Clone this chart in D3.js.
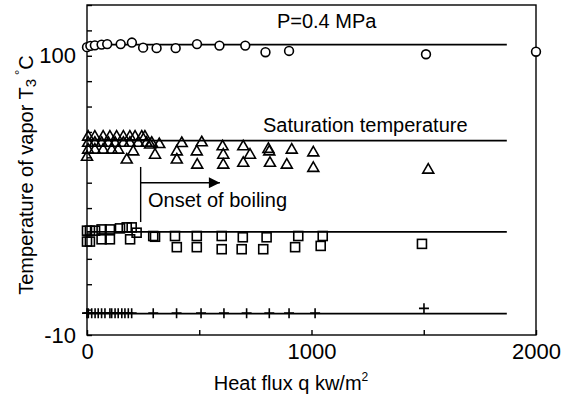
<!DOCTYPE html>
<html>
<head>
<meta charset="utf-8">
<script src="https://cdn.jsdelivr.net/npm/d3@7"></script>
<style>
  html, body { margin: 0; padding: 0; background: #fff; }
  svg { display: block; }
  text { font-family: "Liberation Sans", Arial, Helvetica, sans-serif; fill: #000; }
</style>
</head>
<body>
<svg id="chart" width="573" height="400"></svg>
<script>
// Vapor temperature vs heat flux, P = 0.4 MPa
const xDomain = [0, 2000];
const yDomain = [-10, 120];
const xTickValues = [0, 500, 1000, 1500, 2000];
const xTickLabels = ["0", "", "1000", "", "2000"];
const yTickValues = d3.range(-10, 121, 10);
const yTickLabels = { "-10": "-10", "100": "100" };

// Series: heat flux q (kW/m2) and temperature
const circleQ = [0, 15, 35, 65, 90, 150, 200, 250, 310, 395, 490, 590, 705, 795, 900, 1510, 2000];
const circleT = [103.4, 103.9, 104.1, 104.4, 104.6, 104.6, 105.2, 103.2, 103.0, 103.0, 104.6, 104.0, 104.0, 101.4, 101.9, 100.6, 101.6];

const triangleQ = [5, 35, 72, 102, 132, 162, 191, 214, 244, 258,
                   5, 35, 65, 95, 125, 162, 191, 228, 265, 288,
                   5, 35, 72, 110, 139, 206,
                   0,
                   177, 281, 303, 322, 400, 400, 422, 489, 491, 511,
                   604, 607, 607, 696, 696, 726, 808, 812, 815, 890, 912,
                   1008, 1008, 1520];
const triangleT = [68.0, 68.0, 68.0, 68.0, 68.0, 68.0, 68.0, 68.0, 68.0, 68.0,
                   65.6, 65.6, 65.6, 65.6, 65.6, 65.6, 65.6, 65.6, 65.6, 65.6,
                   62.9, 62.9, 62.9, 62.9, 62.9, 62.2,
                   60.1,
                   59.0, 64.9, 60.9, 65.1, 62.2, 59.0, 65.5, 62.2, 57.0, 65.8,
                   64.2, 60.9, 57.0, 64.2, 57.7, 60.9, 63.2, 62.2, 57.7, 57.0, 62.9,
                   61.8, 55.7, 55.0];

const squareQ = [0, 0, 13, 13, 36, 65, 65, 102, 102, 147, 177, 192, 199, 221,
                 295, 303, 392, 400, 489, 489, 600, 600, 694, 689, 800, 785,
                 941, 927, 1050, 1041, 1492];
const squareT = [31.1, 26.8, 31.1, 26.8, 31.1, 31.6, 27.7, 31.6, 27.7, 32.0, 32.4, 27.7, 32.4, 30.3,
                 29.0, 28.7, 29.0, 24.6, 29.0, 24.6, 29.0, 23.8, 28.5, 23.8, 28.5, 23.8,
                 29.0, 24.6, 29.0, 25.1, 25.9];

const plusQ = [0, 6, 21, 36, 50, 65, 80, 102, 110, 125, 139, 155, 169, 184, 199,
               295, 399, 508, 610, 711, 812, 900, 1016, 1501];
const plusT = [-1.4, -1.4, -1.4, -1.4, -1.4, -1.4, -1.4, -1.4, -1.4, -1.4, -1.4, -1.4, -1.4, -1.4, -1.4,
               -1.4, -1.4, -1.4, -1.4, -1.4, -1.4, -1.4, -1.4, 0.5];

// Saturation / reference levels drawn as horizontal lines
const refLevels = [104.4, 66.6, 30.6, -1.6];
const refQ = [0, 1870];

// Onset-of-boiling marker (data units)
const onsetQ = 239;
const onsetT = [56.2, 34.5];
const onsetArrowT = 50.0;
const onsetArrowEndQ = 592;

const svg = d3.select("#chart");
const margin = { left: 87, right: 37, top: 5, bottom: 65 };
const W = 573, H = 400;

const x = d3.scaleLinear().domain(xDomain).range([margin.left, W - margin.right]);
const y = d3.scaleLinear().domain(yDomain).range([H - margin.bottom, margin.top]);

const stroke = "#000";
const sw = 1.4;
const msw = 1.6;

// Frame
svg.append("rect")
  .attr("x", x(xDomain[0])).attr("y", y(yDomain[1]))
  .attr("width", x(xDomain[1]) - x(xDomain[0]))
  .attr("height", y(yDomain[0]) - y(yDomain[1]))
  .attr("fill", "none").attr("stroke", stroke).attr("stroke-width", sw);

// Axes (ticks pointing inward)
const xAxis = d3.axisBottom(x).tickValues(xTickValues)
  .tickSizeInner(-5).tickSizeOuter(0).tickPadding(12)
  .tickFormat((d, i) => xTickLabels[i]);
const gx = svg.append("g").attr("transform", `translate(0,${y(yDomain[0])})`).call(xAxis);
gx.select(".domain").remove();
gx.selectAll(".tick line").attr("stroke", stroke).attr("stroke-width", sw);
gx.selectAll(".tick text").attr("font-size", 22).attr("dy", "0.71em").attr("y", 8);

const yAxis = d3.axisLeft(y).tickValues(yTickValues)
  .tickSizeInner(-5).tickSizeOuter(0).tickPadding(11)
  .tickFormat(d => yTickLabels[String(d)] || "");
const gy = svg.append("g").attr("transform", `translate(${x(xDomain[0])},0)`).call(yAxis);
gy.select(".domain").remove();
gy.selectAll(".tick line").attr("stroke", stroke).attr("stroke-width", sw);
gy.selectAll(".tick text").attr("font-size", 22).attr("x", -11);

// Horizontal reference lines
svg.append("g").selectAll("line").data(refLevels).join("line")
  .attr("x1", x(refQ[0])).attr("x2", x(refQ[1]))
  .attr("y1", d => y(d)).attr("y2", d => y(d))
  .attr("stroke", stroke).attr("stroke-width", 1.8);

// Markers
const zip = (qs, ts) => qs.map((q, i) => ({ q, t: ts[i] }));

svg.append("g").selectAll("circle").data(zip(circleQ, circleT)).join("circle")
  .attr("cx", d => x(d.q)).attr("cy", d => y(d.t)).attr("r", 4.4)
  .attr("fill", "#fff").attr("stroke", stroke).attr("stroke-width", msw);

const triSym = d3.symbol().type(d3.symbolTriangle).size(52);
svg.append("g").selectAll("path").data(zip(triangleQ, triangleT)).join("path")
  .attr("d", triSym)
  .attr("transform", d => `translate(${x(d.q)},${y(d.t)})`)
  .attr("fill", "none").attr("stroke", stroke).attr("stroke-width", msw);

svg.append("g").selectAll("rect").data(zip(squareQ, squareT)).join("rect")
  .attr("x", d => x(d.q) - 4.5).attr("y", d => y(d.t) - 4.5)
  .attr("width", 9).attr("height", 9)
  .attr("fill", "none").attr("stroke", stroke).attr("stroke-width", msw);

svg.append("g").selectAll("path").data(zip(plusQ, plusT)).join("path")
  .attr("d", d => `M${x(d.q) - 5},${y(d.t)}H${x(d.q) + 5}M${x(d.q)},${y(d.t) - 5}V${y(d.t) + 5}`)
  .attr("fill", "none").attr("stroke", stroke).attr("stroke-width", msw);

// Onset-of-boiling arrow
svg.append("defs").append("marker")
  .attr("id", "head").attr("viewBox", "0 0 10 10")
  .attr("refX", 10).attr("refY", 5)
  .attr("markerUnits", "userSpaceOnUse")
  .attr("markerWidth", 15).attr("markerHeight", 11)
  .attr("orient", "auto")
  .append("path").attr("d", "M0,0L10,5L0,10Z").attr("fill", stroke);

svg.append("line")
  .attr("x1", x(onsetQ)).attr("x2", x(onsetQ))
  .attr("y1", y(onsetT[0])).attr("y2", y(onsetT[1]))
  .attr("stroke", stroke).attr("stroke-width", sw);
svg.append("line")
  .attr("x1", x(onsetQ)).attr("x2", x(onsetArrowEndQ))
  .attr("y1", y(onsetArrowT)).attr("y2", y(onsetArrowT))
  .attr("stroke", stroke).attr("stroke-width", sw)
  .attr("marker-end", "url(#head)");

// Annotations
svg.append("text").attr("x", x(272)).attr("y", y(40.6))
  .attr("font-size", 20).text("Onset of boiling");
svg.append("text").attr("x", x(784)).attr("y", y(70.1))
  .attr("font-size", 20).text("Saturation temperature");
svg.append("text").attr("x", x(846)).attr("y", y(111.0))
  .attr("font-size", 20).text("P=0.4 MPa");

// Axis titles
const xt = svg.append("text").attr("x", 291).attr("y", 390)
  .attr("text-anchor", "middle").attr("font-size", 20);
xt.append("tspan").text("Heat flux q kw/m");
xt.append("tspan").attr("font-size", 12).attr("dy", -9).text("2");

const yt = svg.append("text")
  .attr("transform", "translate(33,175) rotate(-90)")
  .attr("text-anchor", "middle").attr("font-size", 20);
yt.append("tspan").text("Temperature of vapor T");
yt.append("tspan").attr("font-size", 15).attr("dy", 3).text("3");
yt.append("tspan").attr("font-size", 13).attr("dy", -12).attr("dx", 4).text("°");
yt.append("tspan").attr("dy", 9).text("C");
</script>
</body>
</html>
